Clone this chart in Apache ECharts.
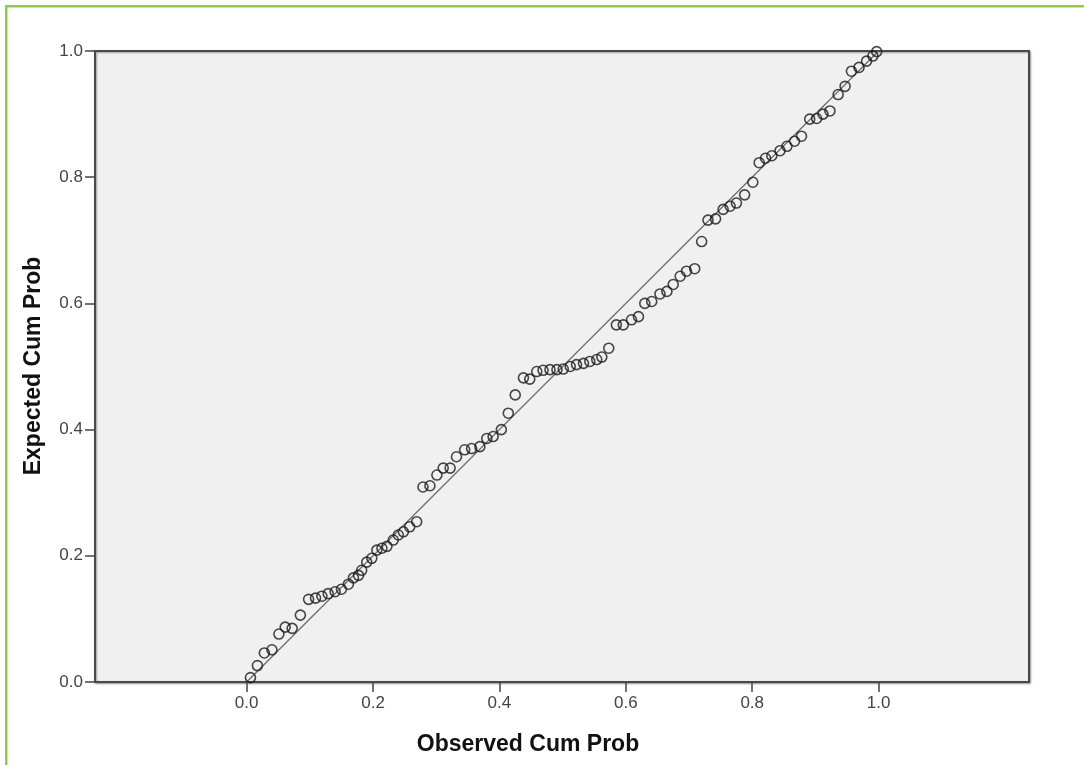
<!DOCTYPE html>
<html>
<head>
<meta charset="utf-8">
<script src="https://cdn.jsdelivr.net/npm/echarts@6/dist/echarts.min.js"></script>
<style>
  html, body { margin: 0; padding: 0; background: #ffffff; }
  #chart { width: 1084px; height: 765px; }
</style>
</head>
<body>
<div id="chart"></div>
<script>
// Normal P-P plot: observed vs expected cumulative probability
const observedCumProb = [
  0.006, 0.017, 0.028, 0.040, 0.051, 0.061, 0.072, 0.085, 0.098, 0.109,
  0.119, 0.129, 0.140, 0.150, 0.161, 0.169, 0.177, 0.182, 0.190, 0.198,
  0.206, 0.214, 0.222, 0.232, 0.240, 0.248, 0.258, 0.269, 0.279, 0.290,
  0.301, 0.311, 0.322, 0.332, 0.345, 0.356, 0.369, 0.380, 0.390, 0.403,
  0.414, 0.425, 0.438, 0.448, 0.459, 0.469, 0.480, 0.491, 0.501, 0.512,
  0.522, 0.533, 0.543, 0.554, 0.562, 0.573, 0.585, 0.596, 0.609, 0.620,
  0.630, 0.641, 0.654, 0.665, 0.675, 0.686, 0.696, 0.709, 0.720, 0.730,
  0.742, 0.754, 0.765, 0.775, 0.788, 0.801, 0.811, 0.821, 0.831, 0.844,
  0.855, 0.867, 0.878, 0.891, 0.902, 0.912, 0.923, 0.936, 0.947, 0.957,
  0.969, 0.981, 0.991, 0.997
];
const expectedCumProb = [
  0.007, 0.026, 0.046, 0.051, 0.076, 0.087, 0.085, 0.106, 0.131, 0.133,
  0.136, 0.140, 0.143, 0.147, 0.155, 0.165, 0.169, 0.177, 0.190, 0.196,
  0.209, 0.212, 0.215, 0.225, 0.233, 0.238, 0.246, 0.254, 0.309, 0.311,
  0.328, 0.339, 0.339, 0.357, 0.368, 0.370, 0.373, 0.386, 0.389, 0.400,
  0.426, 0.455, 0.482, 0.480, 0.492, 0.494, 0.495, 0.495, 0.496, 0.500,
  0.503, 0.505, 0.508, 0.511, 0.515, 0.529, 0.566, 0.566, 0.574, 0.579,
  0.600, 0.603, 0.615, 0.619, 0.630, 0.643, 0.651, 0.655, 0.698, 0.732,
  0.734, 0.749, 0.754, 0.759, 0.772, 0.792, 0.823, 0.830, 0.834, 0.842,
  0.849, 0.857, 0.865, 0.892, 0.893, 0.900, 0.905, 0.931, 0.944, 0.968,
  0.974, 0.984, 0.992, 0.999
];
// Diagonal reference line (expected = observed)
const referenceLine = [[0, 0], [1, 1]];
const xTickValues = [0, 0.2, 0.4, 0.6, 0.8, 1.0];
const yTickValues = [0, 0.2, 0.4, 0.6, 0.8, 1.0];
const xTitle = 'Observed Cum Prob';
const yTitle = 'Expected Cum Prob';

const points = observedCumProb.map((x, i) => [x, expectedCumProb[i]]);

const FONT = '"Liberation Sans", Arial, sans-serif';
const chart = echarts.init(document.getElementById('chart'), null, { renderer: 'canvas' });

chart.setOption({
  animation: false,
  backgroundColor: '#ffffff',
  grid: {
    left: 95, right: 55, top: 51, bottom: 83,
    show: true,
    backgroundColor: '#f0f0f0',
    borderColor: '#4a4a4a',
    borderWidth: 2,
    shadowColor: 'rgba(0,0,0,0.35)',
    shadowBlur: 2,
    shadowOffsetX: 1,
    shadowOffsetY: 1
  },
  xAxis: {
    type: 'value',
    min: -0.24,
    max: 1.238,
    splitLine: { show: false },
    axisLine: { show: false, onZero: false },
    axisTick: {
      show: true, length: 10, customValues: xTickValues,
      lineStyle: { color: '#444', width: 1.5 }
    },
    axisLabel: {
      customValues: xTickValues,
      formatter: v => v.toFixed(1),
      margin: 13,
      color: '#444',
      fontFamily: FONT,
      fontSize: 17
    }
  },
  yAxis: {
    type: 'value',
    min: 0,
    max: 1,
    interval: 0.2,
    splitLine: { show: false },
    axisLine: { show: false, onZero: false },
    axisTick: {
      show: true, length: 10, customValues: yTickValues,
      lineStyle: { color: '#444', width: 1.5 }
    },
    axisLabel: {
      customValues: yTickValues,
      formatter: v => v.toFixed(1),
      margin: 12,
      color: '#444',
      fontFamily: FONT,
      fontSize: 17
    }
  },
  series: [
    {
      type: 'line',
      data: referenceLine,
      showSymbol: false,
      silent: true,
      lineStyle: { color: '#6a6a6a', width: 1.2 },
      z: 2
    },
    {
      type: 'scatter',
      data: points,
      symbol: 'circle',
      symbolSize: 10,
      itemStyle: { color: 'rgba(0,0,0,0)', borderColor: '#1a1a1a', borderWidth: 1.6 },
      z: 3
    }
  ],
  graphic: [
    // thin green frame along the top and left edges
    { type: 'rect', shape: { x: 5, y: 5, width: 1079, height: 2.5 }, style: { fill: '#8fce4a' } },
    { type: 'rect', shape: { x: 5, y: 5, width: 2.5, height: 760 }, style: { fill: '#8fce4a' } },
    {
      type: 'text', x: 528, y: 745,
      style: {
        text: xTitle, fill: '#111', font: 'bold 23px ' + FONT,
        textAlign: 'center', textVerticalAlign: 'middle'
      }
    },
    {
      type: 'text', x: 34, y: 366, rotation: Math.PI / 2,
      style: {
        text: yTitle, fill: '#111', font: 'bold 23px ' + FONT,
        textAlign: 'center', textVerticalAlign: 'middle'
      }
    }
  ]
});
</script>
</body>
</html>
